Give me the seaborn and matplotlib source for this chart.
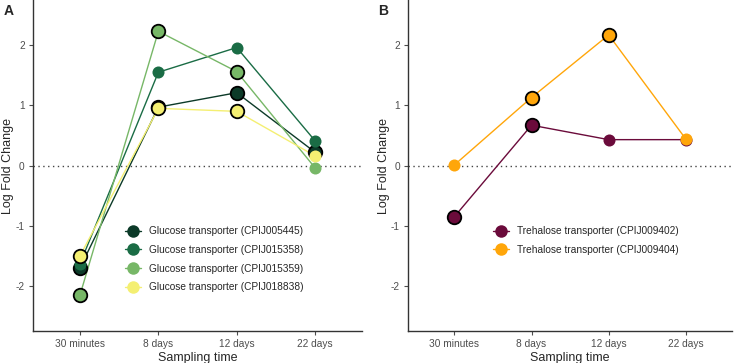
import matplotlib
matplotlib.use("Agg")
import matplotlib.pyplot as plt
from matplotlib.lines import Line2D
import numpy as np
import pandas as pd
import seaborn as sns

sns.set_theme(style="ticks")
plt.rcParams['font.family'] = ['Liberation Sans', 'DejaVu Sans']
plt.rcParams['axes.unicode_minus'] = False

times = ['30 minutes', '8 days', '12 days', '22 days']

# panel A - glucose transporters
glc_names = ['Glucose transporter (CPIJ005445)', 'Glucose transporter (CPIJ015358)',
             'Glucose transporter (CPIJ015359)', 'Glucose transporter (CPIJ018838)']
glc_005445 = [-1.70, 0.97, 1.21, 0.22]
glc_015358 = [-1.63, 1.55, 1.96, 0.41]
glc_015359 = [-2.15, 2.23, 1.56, -0.04]
glc_018838 = [-1.50, 0.95, 0.90, 0.16]
glc_sig_005445 = [1, 1, 1, 1]
glc_sig_015358 = [0, 0, 0, 0]
glc_sig_015359 = [1, 1, 1, 0]
glc_sig_018838 = [1, 1, 1, 0]
glc_colors = ['#0c3a28', '#1a6c45', '#77b767', '#f4ef72']

# panel B - trehalose transporters
tre_names = ['Trehalose transporter (CPIJ009402)', 'Trehalose transporter (CPIJ009404)']
tre_009402 = [-0.85, 0.67, 0.43, 0.43]
tre_009404 = [0.01, 1.13, 2.17, 0.44]
tre_sig_009402 = [1, 1, 0, 0]
tre_sig_009404 = [0, 1, 1, 0]
tre_colors = ['#6b0b3b', '#ffa60a']


def make_df(names, values, sigs):
    rows = []
    for n, v, s in zip(names, values, sigs):
        for i, t in enumerate(times):
            rows.append({'gene': n, 'time': t, 'pos': i, 'lfc': v[i], 'sig': s[i]})
    return pd.DataFrame(rows)


dfA = make_df(glc_names, [glc_005445, glc_015358, glc_015359, glc_018838],
              [glc_sig_005445, glc_sig_015358, glc_sig_015359, glc_sig_018838])
dfB = make_df(tre_names, [tre_009402, tre_009404], [tre_sig_009402, tre_sig_009404])

fig = plt.figure(figsize=(7.38, 3.63), dpi=100)
axA = fig.add_axes([0.0447, 0.088, 0.446, 0.912])
axB = fig.add_axes([0.553, 0.088, 0.439, 0.912])


def draw(ax, df, names, colors, legend_anchor, letter, ylab_x):
    pal = dict(zip(names, colors))
    ax.axhline(0, color='#444444', lw=1, ls=(0, (1, 2.5)), zorder=1)
    sns.lineplot(data=df, x='pos', y='lfc', hue='gene', palette=pal, hue_order=names,
                 lw=1, legend=False, ax=ax, zorder=2, sort=False)
    for n in names:
        d = df[df.gene == n]
        ns = d[d.sig == 0]
        s = d[d.sig == 1]
        sns.scatterplot(data=ns, x='pos', y='lfc', color=pal[n], s=75, linewidth=0,
                        legend=False, ax=ax, zorder=3)
        sns.scatterplot(data=s, x='pos', y='lfc', color=pal[n], s=95, edgecolor='black',
                        linewidth=1.3, legend=False, ax=ax, zorder=3)
    ax.set_xlim(-0.6, 3.6)
    ax.set_ylim(-2.75, 2.75)
    ax.set_xticks(range(len(times)))
    ax.set_xticklabels(times)
    ax.set_yticks([-2, -1, 0, 1, 2])
    ax.set_xlabel('Sampling time', fontsize=9, labelpad=2)
    ax.set_ylabel('Log Fold Change', fontsize=9)
    ax.yaxis.set_label_coords(ylab_x, 0.5)
    ax.tick_params(axis='both', labelsize=7.3, colors='#4d4d4d', length=3, width=0.8,
                   pad=3)
    for sp in ['top', 'right']:
        ax.spines[sp].set_visible(False)
    for sp in ['left', 'bottom']:
        ax.spines[sp].set_color('#333333')
        ax.spines[sp].set_linewidth(1)
    handles = [Line2D([0], [0], color=c, lw=1, marker='o', markersize=9,
                      markeredgewidth=0) for c in colors]
    ax.legend(handles, names, loc='upper left', bbox_to_anchor=legend_anchor,
              frameon=False, fontsize=7.3, handlelength=1.6, handletextpad=0.75,
              labelspacing=0.86, borderpad=0, borderaxespad=0)
    fig.text(ax.get_position().x0 - 0.04, 0.99, letter, fontsize=10,
             fontweight='bold', va='top', ha='left')


draw(axA, dfA, glc_names, glc_colors, (0.28, 0.317), 'A', -0.057)
draw(axB, dfB, tre_names, tre_colors, (0.262, 0.317), 'B', -0.057)

fig.savefig('out.png', dpi=100)
